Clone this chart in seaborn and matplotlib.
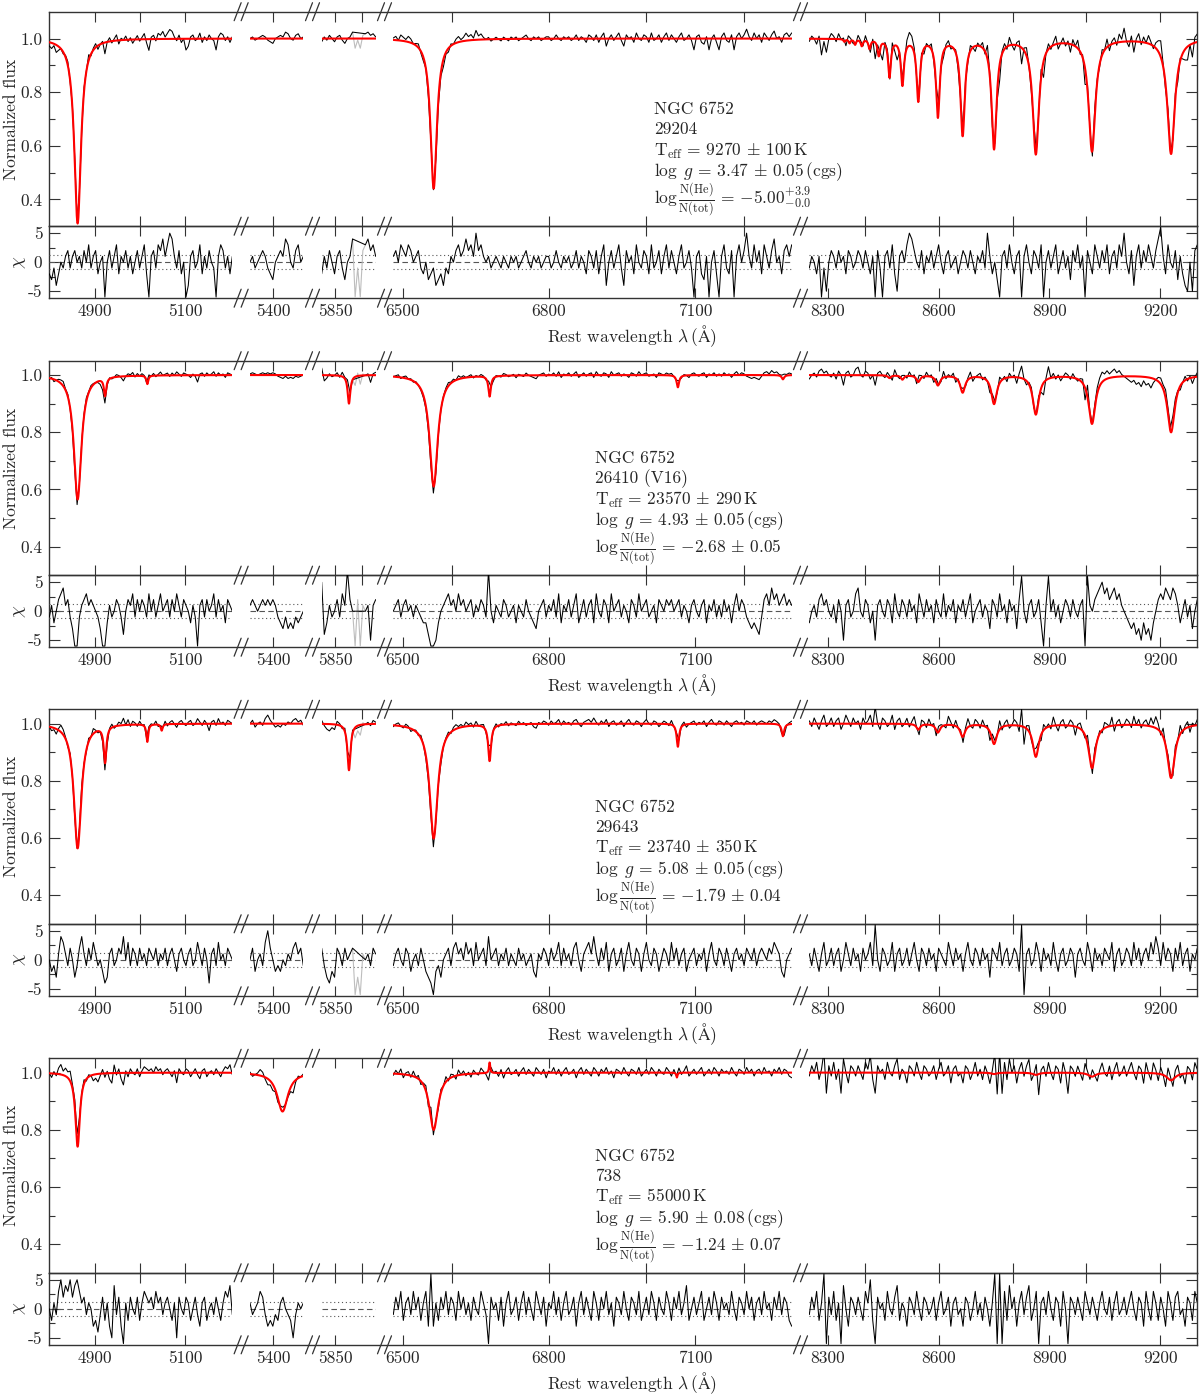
import numpy as np
import matplotlib
matplotlib.use("Agg")
import matplotlib.pyplot as plt
from matplotlib.lines import Line2D
import seaborn as sns

sns.set_style("ticks")
plt.rcParams.update({
    "font.family": ["cmr10", "DejaVu Serif"],
    "mathtext.fontset": "cm",
    "axes.unicode_minus": False,
    "axes.formatter.use_mathtext": True,
    "font.size": 12.5,
})

# ---------------------------------------------------------------- data
seg_lo = [4798, 5357, 5825, 6480, 8250]
seg_hi = [5205, 5457, 5926, 7299, 9300]
top_ticks = [[4900, 5000, 5100], [5400], [5850, 5900],
             [6600, 6800, 7000, 7200], [8400, 8600, 8800, 9000, 9200]]
bottom_ticks = [[4900, 5100], [5400], [5850], [6500, 6800, 7100],
                [8300, 8600, 8900, 9200]]
flux_ticks = [0.4, 0.6, 0.8, 1.0]
flux_minor = [0.5, 0.7, 0.9]
chi_ticks = [-5, 0, 5]
chi_minor = [-2.5, 2.5]
chi_band = 1.2
mask_lo, mask_hi = 5885, 5904
flux_top = [1.10, 1.05, 1.05, 1.05]

cluster = "NGC 6752"
star_ids = ["29204", "26410 (V16)", "29643", "738"]
teff_txt = ["9270 \\pm 100", "23570 \\pm 290", "23740 \\pm 350", "55000"]
logg_txt = ["3.47 \\pm 0.05", "4.93 \\pm 0.05", "5.08 \\pm 0.05", "5.90 \\pm 0.08"]
he_txt = ["-5.00^{+3.9}_{-0.0}", "-2.68 \\pm 0.05", "-1.79 \\pm 0.04", "-1.24 \\pm 0.07"]

# absorption lines (centre [A], central depth, half width [A]) of the model fits
p1_centers = [4861, 6563, 9229, 9015, 8863, 8750, 8665, 8598, 8545, 8502, 8467,
              8438, 8413, 8392, 8374, 8359, 8345]
p1_depths = [0.69, 0.56, 0.43, 0.42, 0.43, 0.41, 0.36, 0.29, 0.23, 0.17, 0.14,
             0.06, 0.035, 0.025, 0.02, 0.015, 0.01]
p1_widths = [9, 8, 12, 11, 10, 8, 7, 6, 5.5, 5, 4.5, 4, 3.5, 3.5, 3, 3, 3]

p2_centers = [4861, 4922, 5016, 5876, 6563, 6678, 7065, 7281, 9229, 9015, 8863,
              8750, 8665, 8598, 8545, 8502, 8467]
p2_depths = [0.435, 0.064, 0.03, 0.10, 0.39, 0.073, 0.043, 0.015, 0.20, 0.17,
             0.137, 0.10, 0.06, 0.035, 0.023, 0.015, 0.01]
p2_widths = [10, 3, 2.5, 3, 10, 3, 3, 3, 12, 11, 10, 9, 8, 7, 6, 5, 5]

p3_centers = [4861, 4922, 5016, 5048, 5876, 6563, 6678, 7065, 7281, 9229, 9015,
              8863, 8750, 8665, 8598, 8545]
p3_depths = [0.436, 0.129, 0.062, 0.023, 0.163, 0.402, 0.129, 0.081, 0.044,
             0.19, 0.155, 0.115, 0.07, 0.045, 0.03, 0.02]
p3_widths = [10, 3.5, 2.5, 2.5, 3.5, 10, 3.5, 3, 3, 12, 11, 10, 9, 8, 7, 6]

p4_centers = [4861, 5418, 6563, 6678, 7063, 9229, 9015, 8863, 8750]
p4_depths = [0.259, 0.136, 0.20, -0.038, 0.017, 0.027, 0.014, 0.008, 0.005]
p4_widths = [6, 12, 11, 1.5, 1.5, 14, 12, 10, 9]

# noise level (flux per unit chi) per panel and segment
p1_sigma = [0.007, 0.006, 0.006, 0.007, 0.010]
p2_sigma = [0.004, 0.004, 0.005, 0.004, 0.007]
p3_sigma = [0.006, 0.006, 0.006, 0.005, 0.010]
p4_sigma = [0.007, 0.007, 0.007, 0.006, 0.012]

# residuals chi = (observed - model) / sigma, per segment
chi_p1_s1 = [-2, -3, -1, -4, -2, 0, -1, 1, 2, -1,
             1, 2, 0, 1, -1, 2, 0, 3, -1, 1,
             2, -2, 0, 1, -6, 0, 2, -1, 1, 3,
             -2, 1, 0, 2, -1, 1, -2, 0, 2, -1,
             1, 3, -2, -6, 1, 2, -1, 3, 2, 4,
             1, 3, 5, 4, 1, -1, 2, -2, 0, -6,
             -4, 1, 2, -1, 0, 3, -2, 1, -1, 2,
             0, -1, -6, 1, 3, 2, -1, 1, -2, 1]
chi_p1_s2 = [0, 1, -1, 0, 1, 2, 1, -1, -2, -3, 0, 1, 2, 1, 4, 3, 0, -1, 2, 3, 0, 1]
chi_p1_s3 = [-2, 1, -1, 2, 0, -2, 1, 2, -1, -3, 0, 1, 4, -6, -1, -6, 2, 3, 4, 2, 3, 1]
chi_p1_s4 = [1, 2, 0, 3, 2, 1, 3, 2, 0, 1,
             2, -1, -2, 0, -3, -2, -1, -4, -3, -2,
             -4, -1, -2, 1, 0, 2, 3, 1, 2, 4,
             2, 3, 1, 5, 2, 3, 1, 0, 1, -1,
             0, 1, 0, -1, 1, 0, -1, 1, 0, 1,
             -1, 0, 1, 2, 0, -1, 1, 0, 1, -1,
             0, 1, 1, -1, 0, 2, 0, -1, 1, 0,
             1, -1, 0, 2, -1, 1, 0, -2, 2, 1,
             -1, 2, -2, 1, 3, -4, 0, 2, -1, 1,
             3, -1, -4, 2, 0, 1, -2, 3, 0, -1,
             2, 1, -2, 3, -1, 0, 2, -2, 1, 3,
             -1, 2, 0, -2, 1, 3, -1, 0, 2, -1,
             -6, 1, 2, -2, -3, 1, -6, 0, 2, -2,
             -6, 1, 3, -1, -2, 2, -6, 1, 3, 0,
             2, 5, 1, -1, 3, 0, 2, -2, 3, 1,
             -1, 2, 4, 0, 1, -2, 2, 3, 1, 3]
chi_p1_s5 = [-1, 1, 0, -2, 1, -6, -1, -5, 0, 2,
             1, -1, 2, 0, 1, -2, 2, 1, -1, 0,
             2, 1, -1, 2, 0, -2, 1, -6, 2, -1,
             -6, 1, 2, -1, 3, -2, -5, 1, 2, 0,
             3, 5, 4, 2, 0, -1, 2, -2, 1, 0,
             2, -1, 1, 3, 0, -2, 1, 2, -1, 0,
             1, -2, 0, 2, 1, -1, 2, 0, -2, 1,
             0, 2, -1, 5, 1, -2, 0, -3, -6, 1,
             2, -1, 3, 0, -2, 1, 2, -6, 1, 3,
             0, -2, 2, 1, -1, 3, -6, 0, 2, -1,
             1, 3, -2, 0, 2, -1, 1, -3, 2, 0,
             3, -1, 1, -6, 2, 0, -2, 3, 1, -1,
             2, 0, 3, -2, 1, 2, -1, 3, 1, 5,
             0, -2, 2, -4, 1, 3, -1, 2, 0, 3,
             1, -1, 2, 4, 6, 1, -2, 3, 0, -1,
             2, -3, 1, -2, -4, -5, 0, -5, 2, 3]

chi_p2_s1 = [-1, 1, -2, 0, 2, 3, 4, 1, 2, -1,
             -3, -6, -6, -1, 1, 2, 3, 1, 2, 1,
             0, -1, -3, -6, -6, -2, 1, -1, 0, 2,
             1, -1, -4, 0, 2, 1, 3, -1, 2, 0,
             2, 1, -1, 3, 0, 2, -1, 1, 3, 0,
             1, 2, -1, 2, 0, 3, 1, -1, 2, 1,
             0, -2, 1, -1, -6, 1, 2, -1, 2, 0,
             1, 3, -1, 2, 0, 1, -2, 2, 1, 0]
chi_p2_s2 = [1, 2, 1, 0, 1, 2, 1, 2, 1, 2, 1, -1, -2, -3, -1, -3, -2, -3, -1, -2, -1, 0]
chi_p2_s3 = [5, -4, -2, 1, -1, 0, 2, -1, 3, 1, 7, 2, 0, -6, 2, -6, 1, 0, 1, -5, 1, 2]
chi_p2_s4 = [0, 1, 2, -1, 1, 2, 0, 1, -1, 1,
             0, -1, -2, -2, -4, -6, -6, -5, -2, 0,
             1, 2, 3, 1, 2, 0, 3, 1, 2, 0,
             1, 2, -1, 1, 0, 2, 1, -1, 7, 0,
             -2, 1, 0, -1, 2, 1, -1, 0, 1, -2,
             1, 0, -1, 2, 0, -1, -2, -3, 0, 1,
             2, -1, 1, 0, 2, -1, 3, -2, 1, 0,
             2, -1, 1, 3, -2, 0, 2, -1, 1, 2,
             -2, 3, 0, -1, 2, 1, -2, 3, 0, 1,
             2, -1, 1, 0, -2, 2, 1, -1, 3, 0,
             1, 2, -1, 0, 1, -2, 2, 1, 0, 2,
             1, 2, 0, 1, 2, -1, 1, 0, -2, 1,
             2, 0, -1, 1, 2, -2, 1, 0, 2, -1,
             1, -1, 2, 0, 1, -2, 1, 3, 0, 2,
             1, -1, -2, -3, -2, -3, -4, -1, 2, 3,
             1, 4, 2, 3, 1, 2, 3, 1, 2, 1]
chi_p2_s5 = [-2, 0, 1, -1, 2, 3, 1, 2, 0, -1,
             1, -2, 2, 0, -5, 1, 2, -1, 0, 3,
             4, 0, -1, 2, 1, -2, 0, -5, 1, 2,
             0, -1, 2, 1, -2, 3, 0, -1, 2, 1,
             -1, 2, 0, 1, -2, 3, 1, -1, 2, 0,
             1, -2, 2, 0, -1, 3, -1, 1, 0, 2,
             -2, 1, 0, 2, -1, 1, 3, -2, 0, 1,
             2, -1, 1, 0, -3, 2, 1, -1, 3, 0,
             1, -2, 2, 0, 1, -3, 2, 6, 0, -2,
             1, 2, -1, 0, 2, -2, -6, 1, 6, 0,
             2, -1, 1, -2, 0, 2, 1, -1, 2, 0,
             -1, 1, 2, -6, 6, 1, 0, 2, 3, 4,
             5, 3, 4, 2, 3, 4, 2, 3, 1, 0,
             -1, -2, -3, -2, -4, -3, -5, -2, -4, -3,
             -5, -2, 0, 2, 3, 2, 4, 3, 2, 4,
             3, 1, -2, 0, 2, -1, 1, -3, 0, 2]

chi_p3_s1 = [0, -2, -1, -3, 1, 4, 3, 1, -1, 2,
             0, -3, -1, 2, 4, 1, -1, 2, 0, 3,
             1, -1, 0, -2, -4, -3, 1, 2, -1, 0,
             2, 1, 4, 0, 3, -1, 2, 1, -1, 2,
             0, 1, -1, 2, 1, 0, 2, -1, 1, 0,
             2, -1, 1, 2, 0, -2, 1, 2, 0, -1,
             1, 2, -1, 0, 3, 1, -1, 2, 0, -4,
             1, 2, -1, 3, 0, 1, -1, 2, 1, 0]
chi_p3_s2 = [0, 2, -2, 0, 1, -1, 3, 5, 2, 0, -2, -1, -2, 0, -1, 1, 0, 2, 3, 1, 2, -1]
chi_p3_s3 = [2, -1, -3, -4, -2, -3, 2, 1, -1, 2, 0, 1, 2, -6, -3, -6, 1, 0, 1, -1, 2, 1]
chi_p3_s4 = [-1, 1, 2, 0, -1, 2, 1, -2, 0, 1,
             -1, 2, 0, -2, -3, -4, -6, -2, -1, -3,
             0, 1, 2, -1, 2, 3, 1, 2, 0, 3,
             1, 2, -1, 3, 0, 1, 2, -1, 4, 0,
             1, 2, -1, 1, 0, 2, -1, 1, 0, -1,
             2, 0, 1, -1, 0, 1, -2, -3, 1, 0,
             2, 1, -1, 2, 0, 1, 3, -1, 2, 0,
             1, -1, 2, 3, 0, -2, 1, 2, 3, 1,
             4, 1, -1, 2, 0, 3, -2, 1, 2, -1,
             0, 2, -2, 1, 3, 0, -1, 2, 1, -2,
             1, 3, 0, -1, 2, 1, -2, 0, 2, 1,
             -1, 3, 0, 2, -1, 1, 2, -2, 0, 1,
             2, -1, 1, 0, 2, -2, 1, 3, 0, -1,
             2, 1, -1, 2, 0, -2, 1, 2, 0, 1,
             -1, 2, 1, 0, 2, -1, 1, 2, 1, 0,
             2, 1, 3, 2, 1, -2, -3, 0, 1, 2]
chi_p3_s5 = [1, -1, 2, 0, -2, 1, 3, -1, 0, 2,
             -1, 1, 2, -2, 0, 3, 1, -1, 2, 0,
             1, -2, 2, 0, 1, 3, -1, 6, 0, -2,
             2, 1, -1, 0, 3, -2, 1, 2, -1, 0,
             2, -1, 1, 3, 0, -2, 2, 1, -1, 2,
             0, 1, -2, 2, 1, 0, -1, 3, 1, -1,
             2, 0, 1, -2, 1, 3, 0, -1, 2, 1,
             -1, 2, 0, 1, -3, 2, 1, 0, 3, -1,
             1, 2, -1, 0, 2, 1, -2, 6, -6, 1,
             2, -1, 0, 3, 1, -2, 2, 0, 1, -1,
             3, 0, -2, 1, 2, -1, 0, 2, 1, -3,
             1, 2, 0, -1, 3, 1, -2, 2, 0, 1,
             -1, 2, 1, 0, 3, -2, 1, 2, -1, 0,
             2, 1, -1, 3, 0, 2, -1, 1, 2, 0,
             3, 1, 4, 2, -1, 3, 0, 2, 1, -2,
             2, 0, 3, -1, 1, 2, -2, 1, 0, 2]

chi_p4_s1 = [0, -2, 1, -1, 3, 5, 2, 4, 3, 5,
             2, 4, 5, 3, 1, 2, -1, 1, 0, -3,
             -2, -4, -1, 2, -2, 1, -3, -5, 4, -1,
             2, -3, -6, 1, -2, 2, 0, -1, 2, -2,
             1, 3, 2, 1, 2, 0, 3, 1, 2, -1,
             1, 2, 0, -2, 1, -5, 2, 0, -1, 2,
             1, -2, 0, 2, -1, -3, 1, 2, -2, 0,
             1, -1, 2, 0, -2, 1, 3, 2, 4, -1]
chi_p4_s2 = [1, -1, 0, 1, 3, 2, -1, -3, -2, -3, -1, -2, 1, 2, 0, -1, -2, -5, -1, 1, 0, 1]
chi_p4_s3 = []
chi_p4_s4 = [-1, 2, 0, 3, -2, 1, 2, -1, 3, 0,
             2, -2, 1, 3, -3, 6, -3, 1, -2, 2,
             0, 3, -1, 2, 1, -2, 3, 0, 2, -1,
             1, -2, 2, 0, -1, 3, 1, -1, -6, 2,
             0, 1, -2, 2, -3, 1, 3, -1, 0, 2,
             -2, 1, 3, -1, 2, 0, -2, 3, 1, -1,
             2, -3, 1, 0, 3, -1, 2, -2, 1, 3,
             -1, 0, 2, -3, 1, 3, -1, 2, 0, -2,
             3, 1, -2, 2, 0, 3, -1, 1, -3, 2,
             1, -1, 3, 0, -2, 2, 1, -1, 3, -2,
             0, 2, -1, 3, 1, -2, 2, 0, -1, 3,
             1, -2, 2, 0, 3, -1, 1, 4, -2, 0,
             2, -1, 1, 3, -2, 0, 2, -1, 3, 1,
             -2, 2, 0, 1, -1, 3, 0, -2, 2, 1,
             -1, 3, 0, 2, -2, 1, 2, -1, 3, 0,
             1, -2, 2, 0, 3, -1, 2, 1, -2, -3]
chi_p4_s5 = [-1, 2, 0, 3, -2, 1, 6, -6, 2, -1,
             3, -2, 1, -6, 4, 0, -3, 2, 1, -1,
             2, 0, -2, 3, 1, 5, -2, -6, 2, 0,
             1, -2, 3, 0, -1, 2, 4, -2, 1, 0,
             -3, 2, 1, -1, 3, 0, -2, 2, 1, -1,
             0, 2, -2, 1, 3, -1, 0, 2, -3, 1,
             2, -1, 0, -3, 2, 1, -2, 0, 3, -1,
             1, -2, 2, 0, -3, 1, 6, -6, 6, -6,
             3, -2, 4, 0, 2, -3, 1, 3, -1, 2,
             4, -2, 0, 3, -6, 1, 2, -1, 3, 0,
             -2, 2, 1, -3, 3, 0, -6, 2, 1, -1,
             2, 0, -2, 3, 1, -1, 2, 0, -2, 1,
             3, 0, -1, 2, -2, 1, 3, -1, 0, 2,
             -1, 1, 3, 0, -2, 2, 1, -3, 3, 0,
             -2, 3, 1, -2, 2, 0, -3, 3, 1, -2,
             2, 3, -1, 0, -3, 2, 1, -2, 3, 1]

lines = [(p1_centers, p1_depths, p1_widths), (p2_centers, p2_depths, p2_widths),
         (p3_centers, p3_depths, p3_widths), (p4_centers, p4_depths, p4_widths)]
sigmas = [p1_sigma, p2_sigma, p3_sigma, p4_sigma]
chis = [[chi_p1_s1, chi_p1_s2, chi_p1_s3, chi_p1_s4, chi_p1_s5],
        [chi_p2_s1, chi_p2_s2, chi_p2_s3, chi_p2_s4, chi_p2_s5],
        [chi_p3_s1, chi_p3_s2, chi_p3_s3, chi_p3_s4, chi_p3_s5],
        [chi_p4_s1, chi_p4_s2, chi_p4_s3, chi_p4_s4, chi_p4_s5]]

# ---------------------------------------------------------------- layout
W, H = 1200, 1395
fig = plt.figure(figsize=(W / 100, H / 100), dpi=100)
FRAME = "#333333"
FS = 12.5
seg_px = [(49.3, 232.3), (250.0, 303.3), (321.7, 375.7), (393.3, 791.7), (809.3, 1197.3)]
panel_top = [11.7, 360.7, 709.3, 1058.3]
SPEC_H, RES_H = 214.5, 72.0
X_L, X_R = seg_px[0][0], seg_px[-1][1]
text_x = [654, 595, 595, 595]
text_off = [102.5, 122.5, 144.0, 164.5, 191.5]


def rect(x0, y0, x1, y1):
    return [x0 / W, 1 - y1 / H, (x1 - x0) / W, (y1 - y0) / H]


def model(w, centers, depths, widths):
    f = np.ones_like(w)
    for c, d, g in zip(centers, depths, widths):
        f = f * (1 - d / (1 + ((w - c) / g) ** 2))
    return f


def line(ax, x, y, **kw):
    sns.lineplot(x=x, y=y, ax=ax, estimator=None, sort=False, **kw)


def spaced(s):
    return "{" + s.replace("\\pm", "\\,\\pm\\,") + "}"


for p in range(4):
    t = panel_top[p]
    sb = t + SPEC_H
    rb = sb + RES_H
    for (y0, y1) in [(t, sb), (sb, rb)]:
        fr = fig.add_axes(rect(X_L, y0, X_R, y1))
        fr.set_xticks([])
        fr.set_yticks([])
        fr.patch.set_alpha(0)
        for s in fr.spines.values():
            s.set_color(FRAME)
            s.set_linewidth(1.0)

    for k in range(5):
        x0, x1 = seg_px[k]
        lo, hi = seg_lo[k], seg_hi[k]
        chi = np.asarray(chis[p][k], dtype=float)
        axs = fig.add_axes(rect(x0, t, x1, sb))
        axr = fig.add_axes(rect(x0, sb, x1, rb))
        for ax in (axs, axr):
            ax.patch.set_alpha(0)
            for s in ax.spines.values():
                s.set_visible(False)

        for yv, ls in [(0, (0, (5, 3))), (chi_band, (0, (1, 2.5))), (-chi_band, (0, (1, 2.5)))]:
            axr.axhline(yv, color="#555555", lw=0.8, ls=ls, zorder=1)

        if len(chi):
            w = np.linspace(lo, hi, len(chi))
            obs = model(w, *lines[p]) + sigmas[p][k] * chi
            m = (w >= mask_lo) & (w <= mask_hi)
            if m.any():
                idx = np.where(m)[0]
                g = slice(idx[0] - 1, idx[-1] + 2)
                line(axs, w[g], obs[g], color="#bdbdbd", lw=0.8)
                line(axr, w[g], chi[g], color="#bdbdbd", lw=0.8)
            line(axs, w[~m], obs[~m], color="black", lw=0.75)
            line(axr, w[~m], chi[~m], color="black", lw=0.75)
            wf = np.linspace(lo, hi, 1500)
            line(axs, wf, model(wf, *lines[p]), color="#ff0000", lw=1.5)

        axs.set_xlim(lo, hi)
        axr.set_xlim(lo, hi)
        axs.set_ylim(0.30, flux_top[p])
        axr.set_ylim(-6.2, 6.2)
        for ax in (axs, axr):
            ax.set_xlabel("")
            ax.set_ylabel("")

        # x ticks
        axs.set_xticks(top_ticks[k])
        axs.tick_params(axis="x", which="both", direction="in", top=True, bottom=True,
                        labelbottom=False, length=7, width=0.8, color=FRAME)
        axr.set_xticks(bottom_ticks[k])
        axr.set_xticklabels([str(v) for v in bottom_ticks[k]])
        axr.tick_params(axis="x", direction="in", top=False, bottom=True, length=7,
                        width=0.8, color=FRAME, pad=4, labelsize=FS)
        sec = axr.secondary_xaxis("top")
        sec.set_xticks(top_ticks[k])
        sec.set_xticklabels([])
        sec.tick_params(direction="in", length=7, width=0.8, color=FRAME)
        for s in sec.spines.values():
            s.set_visible(False)

        # y ticks
        if k in (0, 4):
            axs.set_yticks(flux_ticks)
            axs.set_yticks(flux_minor, minor=True)
            axr.set_yticks(chi_ticks)
            axr.set_yticks(chi_minor, minor=True)
            if k == 0:
                axs.set_yticklabels([f"{v:.1f}" for v in flux_ticks])
                axr.set_yticklabels([str(v) for v in chi_ticks])
            for ax in (axs, axr):
                ax.tick_params(axis="y", which="both", direction="in", left=(k == 0),
                               right=(k == 4), labelleft=(k == 0), labelright=False,
                               color=FRAME, width=0.8, labelsize=FS, pad=5)
                ax.tick_params(axis="y", which="major", length=8)
                ax.tick_params(axis="y", which="minor", length=4.5)
        else:
            axs.set_yticks([])
            axr.set_yticks([])

    # break marks
    for k in range(4):
        cx = (seg_px[k][1] + seg_px[k + 1][0]) / 2
        for yy in (t, sb, rb):
            for off in (-3.5, 3.5):
                xa, xb = cx + off - 3.5, cx + off + 3.5
                fig.add_artist(Line2D([xa / W, xb / W], [1 - (yy + 9) / H, 1 - (yy - 9) / H],
                                      transform=fig.transFigure, color=FRAME, lw=0.9))

    # axis labels
    fig.text(11 / W, 1 - (t + SPEC_H / 2) / H, "Normalized flux", rotation=90,
             ha="center", va="center", fontsize=FS)
    fig.text(19 / W, 1 - (sb + RES_H / 2) / H, r"$\chi$", rotation=90,
             ha="center", va="center", fontsize=FS + 1)
    fig.text(632 / W, 1 - (rb + 38) / H, "Rest wavelength $\\lambda\\,(\\mathrm{\\AA})$",
             ha="center", va="center", fontsize=FS)

    # parameter block
    txt = [cluster, star_ids[p],
           "$\\mathrm{T_{eff}}\\,=\\," + spaced(teff_txt[p]) + "\\,\\mathrm{K}$",
           "$\\log\\ g\\,=\\," + spaced(logg_txt[p]) + "\\,(\\mathrm{cgs})$",
           "$\\log\\frac{\\mathrm{N(He)}}{\\mathrm{N(tot)}}\\,=\\," + spaced(he_txt[p]) + "$"]
    for s, off in zip(txt, text_off):
        fig.text(text_x[p] / W, 1 - (t + off) / H, s, ha="left", va="baseline", fontsize=FS)

fig.savefig("out.png", dpi=100)
